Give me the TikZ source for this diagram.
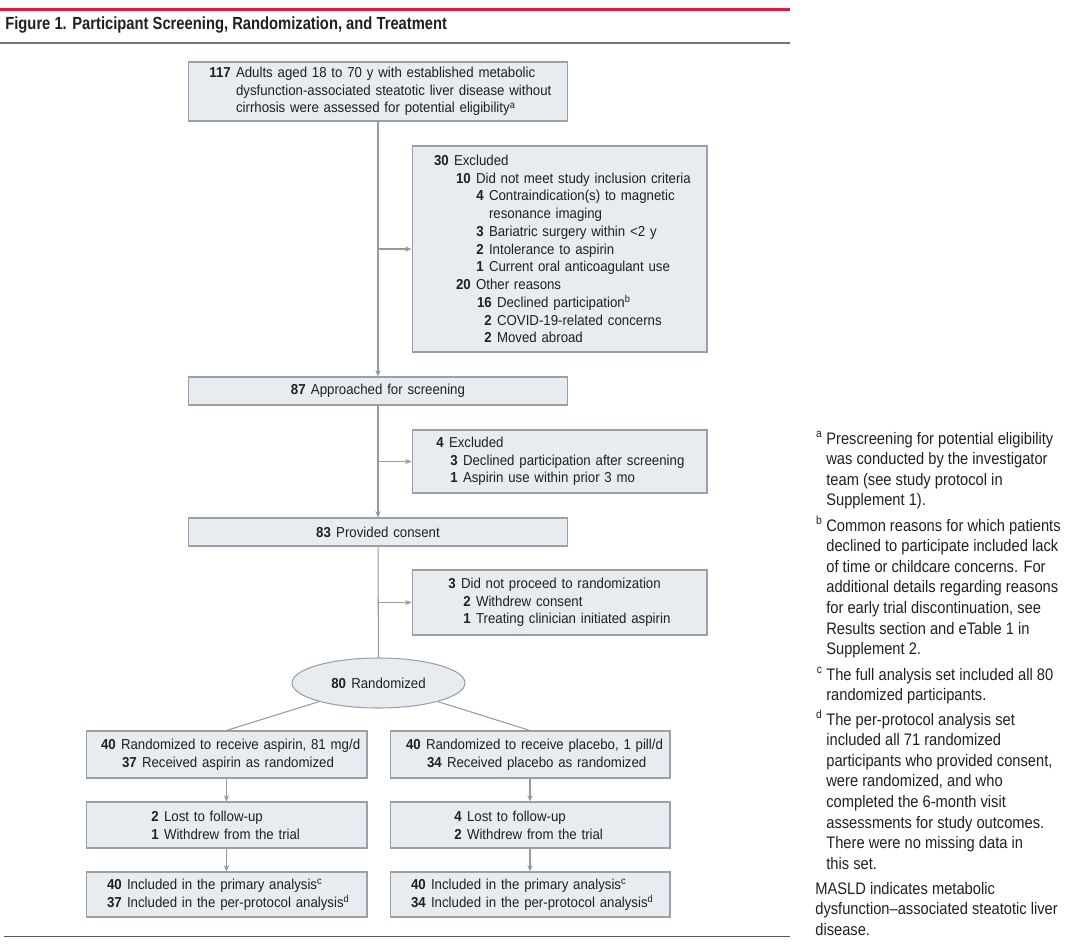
\documentclass[tikz,border=0pt]{standalone}
\usepackage{fontspec}
\setmainfont{Liberation Sans}[FakeStretch=0.92]
\newfontfamily\titlefont{Liberation Sans}[FakeStretch=0.84]
\newfontfamily\notefont{Liberation Sans}[FakeStretch=0.88]
\usepackage{xcolor}
\usetikzlibrary{arrows.meta,shapes.geometric}

\definecolor{boxfill}{HTML}{E6ECF0}
\definecolor{boxline}{HTML}{9AA0A6}
\definecolor{conn}{HTML}{999999}
\definecolor{jamared}{HTML}{E4173E}
\definecolor{inkgray}{HTML}{231F20}

\newdimen\pxu \pxu=0.02cm
\newcommand{\nline}[3]{\hspace*{#1\pxu}\llap{\textbf{#2}\hspace{3pt}}#3}
\newcommand{\ind}[1]{\hspace*{#1\pxu}}
\newcommand{\fnm}[1]{\llap{\textsuperscript{#1}\hspace{2pt}}}

\begin{document}
\begin{tikzpicture}[x=0.02cm, y=-0.02cm, text=inkgray,
  font=\fontsize{8.2}{10.1}\selectfont,
  box/.style={draw=boxline, fill=boxfill, line width=0.6pt, inner sep=0pt, align=left},
  link/.style={conn, line width=0.6pt},
  arr/.style={-{Stealth[length=3.6pt,width=3pt]}, conn, line width=0.6pt},
  note/.style={anchor=base west, inner sep=0pt, align=left,
    font=\notefont\fontsize{9.5}{11.7}\selectfont}]
  \useasboundingbox (0,0) rectangle (1080,947);

  % header rules and title
  \draw[jamared, line width=2.2pt] (0,9.5) -- (790,9.5);
  \draw[black!55, line width=1.1pt] (0,42.7) -- (790,42.7);
  \node[anchor=west, inner sep=0pt, font=\titlefont\bfseries\fontsize{10}{12}\selectfont] (title) at (5,25)
    {Figure 1. Participant Screening, Randomization, and Treatment};

  % enrollment
  \node[box, text width=7.6cm, minimum height=1.18cm] (top) at (378,91.5)
    {\nline{48}{117}{Adults aged 18 to 70 y with established metabolic}\\
     \ind{48}dysfunction-associated steatotic liver disease without\\
     \ind{48}cirrhosis were assessed for potential eligibility\textsuperscript{a}};

  \node[box, text width=5.9cm, minimum height=4.12cm] (exc1) at (559.5,249)
    {\nline{42}{30}{Excluded}\\
     \nline{64}{10}{Did not meet study inclusion criteria}\\
     \nline{77}{4}{Contraindication(s) to magnetic}\\
     \ind{77}resonance imaging\\
     \nline{77}{3}{Bariatric surgery within <2 y}\\
     \nline{77}{2}{Intolerance to aspirin}\\
     \nline{77}{1}{Current oral anticoagulant use}\\
     \nline{64}{20}{Other reasons}\\
     \nline{85}{16}{Declined participation\textsuperscript{b}}\\
     \nline{85}{2}{COVID-19-related concerns}\\
     \nline{85}{2}{Moved abroad}};

  \node[box, align=center, text width=7.6cm, minimum height=0.56cm] (appr) at (378,391)
    {\textbf{87}\hspace{3pt}Approached for screening};

  \node[box, text width=5.9cm, minimum height=1.26cm] (exc2) at (559.5,461.5)
    {\nline{37}{4}{Excluded}\\
     \nline{51}{3}{Declined participation after screening}\\
     \nline{51}{1}{Aspirin use within prior 3 mo}};

  \node[box, align=center, text width=7.6cm, minimum height=0.56cm] (cons) at (378,532)
    {\textbf{83}\hspace{3pt}Provided consent};

  \node[box, text width=5.9cm, minimum height=1.3cm] (exc3) at (559.5,602.5)
    {\nline{49}{3}{Did not proceed to randomization}\\
     \nline{64}{2}{Withdrew consent}\\
     \nline{64}{1}{Treating clinician initiated aspirin}};

  \node[ellipse, draw=boxline, fill=boxfill, line width=0.6pt, inner sep=0pt,
    minimum width=3.46cm, minimum height=1cm] (rand) at (378.5,683)
    {\textbf{80}\hspace{3pt}Randomized};

  % allocation arms
  \node[box, text width=5.62cm, minimum height=0.94cm] (L1) at (226.5,754.5)
    {\nline{35}{40}{Randomized to receive aspirin, 81 mg/d}\\
     \nline{56}{37}{Received aspirin as randomized}};
  \node[box, text width=5.6cm, minimum height=0.94cm] (R1) at (530,754.5)
    {\nline{36}{40}{Randomized to receive placebo, 1 pill/d}\\
     \nline{57}{34}{Received placebo as randomized}};

  \node[box, text width=5.62cm, minimum height=0.92cm] (L2) at (226.5,825)
    {\nline{78}{2}{Lost to follow-up}\\
     \nline{78}{1}{Withdrew from the trial}};
  \node[box, text width=5.6cm, minimum height=0.92cm] (R2) at (530,825)
    {\nline{77}{4}{Lost to follow-up}\\
     \nline{77}{2}{Withdrew from the trial}};

  \node[box, text width=5.62cm, minimum height=0.9cm] (L3) at (226.5,894.5)
    {\nline{41}{40}{Included in the primary analysis\textsuperscript{c}}\\
     \nline{41}{37}{Included in the per-protocol analysis\textsuperscript{d}}};
  \node[box, text width=5.6cm, minimum height=0.9cm] (R3) at (530,894.5)
    {\nline{41}{40}{Included in the primary analysis\textsuperscript{c}}\\
     \nline{41}{34}{Included in the per-protocol analysis\textsuperscript{d}}};

  % connectors
  \coordinate (j1) at (top.south |- exc1.west);
  \coordinate (j2) at (top.south |- exc2.west);
  \coordinate (j3) at (top.south |- exc3.west);
  \draw[arr] (top) -- (appr);
  \draw[arr] (j1) -- (exc1);
  \draw[arr] (appr) -- (cons);
  \draw[arr] (j2) -- (exc2);
  \draw[link] (cons) -- (rand);
  \draw[arr] (j3) -- (exc3);
  \draw[link] (rand) -- (L1.north);
  \draw[link] (rand) -- (R1.north);
  \draw[arr] (L1) -- (L2);
  \draw[arr] (L2) -- (L3);
  \draw[arr] (R1) -- (R2);
  \draw[arr] (R2) -- (R3);

  \draw[black!65, line width=0.9pt] (4,936.5) -- (790,936.5);

  % footnotes (base = last line)
  \node[note] (fna) at (826,505.8)
    {\fnm{a}Prescreening for potential eligibility\\
     was conducted by the investigator\\
     team (see study protocol in\\
     Supplement 1).};
  \node[note] (fnb) at (826,654.6)
    {\fnm{b}Common reasons for which patients\\
     declined to participate included lack\\
     of time or childcare concerns. For\\
     additional details regarding reasons\\
     for early trial discontinuation, see\\
     Results section and eTable 1 in\\
     Supplement 2.};
  \node[note] (fnc) at (826,700.6)
    {\fnm{c}The full analysis set included all 80\\
     randomized participants.};
  \node[note] (fnd) at (826,869.2)
    {\fnm{d}The per-protocol analysis set\\
     included all 71 randomized\\
     participants who provided consent,\\
     were randomized, and who\\
     completed the 6-month visit\\
     assessments for study outcomes.\\
     There were no missing data in\\
     this set.};
  \node[note] (fnm) at (815,935.2)
    {MASLD indicates metabolic\\
     dysfunction–associated steatotic liver\\
     disease.};
\end{tikzpicture}
\end{document}
